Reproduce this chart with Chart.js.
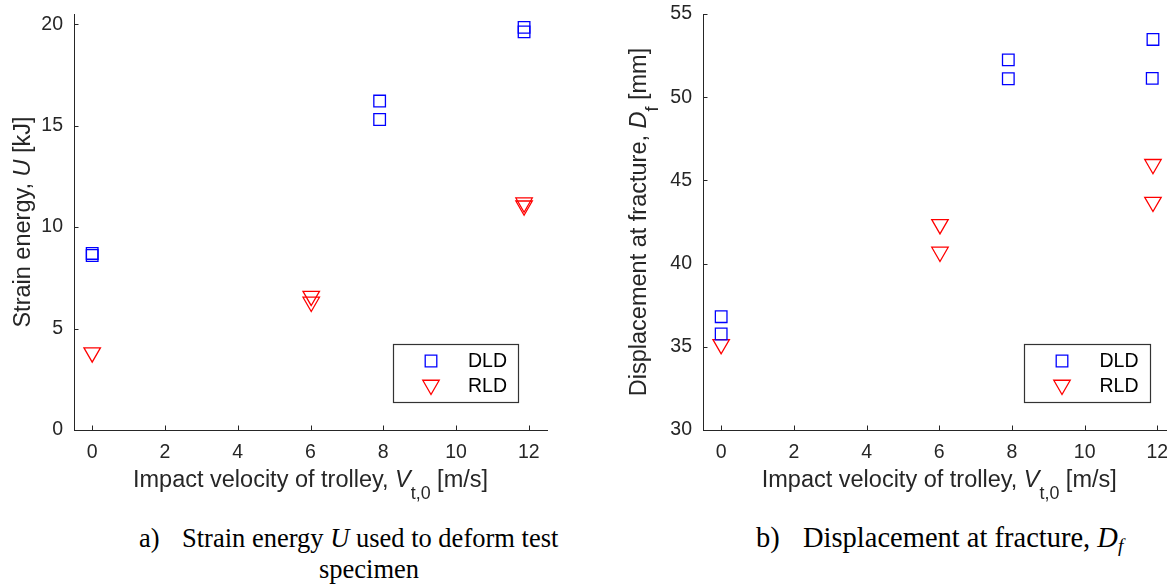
<!DOCTYPE html>
<html>
<head>
<meta charset="utf-8">
<script src="https://cdn.jsdelivr.net/npm/chart.js@4.4.1/dist/chart.umd.min.js"></script>
<style>
  html, body { margin: 0; padding: 0; background: #fff; }
  body { width: 1167px; height: 588px; overflow: hidden; position: relative; }
  canvas { position: absolute; top: 0; }
  #energyChart { left: 0; }
  #dispChart { left: 590px; }
  .cap { position: absolute; font-family: "Liberation Serif", "Times New Roman", serif; color: #000;
         font-size: 26.5px; line-height: 31px; white-space: nowrap; }
  .capB { font-size: 28.5px; }
  .sub { font-size: 0.68em; position: relative; top: 0.28em; }
</style>
</head>
<body>
<canvas id="energyChart" width="590" height="510"></canvas>
<canvas id="dispChart" width="600" height="510"></canvas>

<div class="cap" style="left:139px; top:523px;">a)</div>
<div class="cap" style="left:182px; top:523px; width:374px; text-align:center;">Strain energy <i>U</i> used to deform test<br>specimen</div>
<div class="cap capB" style="left:756px; top:522px;">b)</div>
<div class="cap capB" style="left:803px; top:522px;">Displacement at fracture, <i>D<span class="sub">f</span></i></div>

<script>
// Tick values
const velocityTicks = [0, 2, 4, 6, 8, 10, 12];
const energyTicks = [0, 5, 10, 15, 20];
const dispTicks = [30, 35, 40, 45, 50, 55];

// Strain energy U [kJ] vs impact velocity [m/s]
const dldEnergyV = [0, 0, 7.9, 7.9, 11.87, 11.87];
const dldEnergyU = [8.7, 8.6, 16.21, 15.30, 19.84, 19.62];
const rldEnergyV = [0, 6.02, 6.02, 11.87, 11.87];
const rldEnergyU = [3.81, 6.60, 6.31, 11.20, 11.05];

// Displacement at fracture Df [mm] vs impact velocity [m/s]
const dldDispV = [0, 0, 7.9, 7.9, 11.88, 11.86];
const dldDispD = [36.81, 35.77, 52.24, 51.11, 53.47, 51.13];
const rldDispV = [0, 6.02, 6.02, 11.88, 11.88];
const rldDispD = [35.15, 42.36, 40.70, 45.97, 43.70];

const seriesNames = ['DLD', 'RLD'];

const AXIS_COLOR = '#262626';
const SANS = '"Liberation Sans", Arial, Helvetica, sans-serif';
const BLUE = '#0000ff';
const RED = '#ff0000';
const TITLE_SIZE = 23.5;
const TICK_SIZE = 19.5;

const toPoints = (xs, ys) => xs.map((x, i) => ({ x: x, y: ys[i] }));

// draws a line of text made of normal / italic / subscript pieces, centred on cx
function drawRich(ctx, segs, cx, baseY, size, color) {
  const fontFor = s => (s.style === 'italic' ? 'italic ' : '') +
    (s.style === 'sub' ? size * 0.76 : size) + 'px ' + SANS;
  let total = 0;
  const widths = segs.map(s => {
    ctx.font = fontFor(s);
    const w = ctx.measureText(s.text).width;
    total += w;
    return w;
  });
  let x = cx - total / 2;
  ctx.fillStyle = color;
  ctx.textAlign = 'left';
  ctx.textBaseline = 'alphabetic';
  segs.forEach((s, i) => {
    ctx.font = fontFor(s);
    ctx.fillText(s.text, x, baseY + (s.style === 'sub' ? size * 0.5 : 0));
    x += widths[i];
  });
}

function markerPath(ctx, style, x, y, r) {
  ctx.beginPath();
  if (style === 'rect') {
    const h = Math.SQRT1_2 * r;
    ctx.rect(x - h, y - h, 2 * h, 2 * h);
  } else {
    // downward triangle
    for (let k = 0; k < 3; k++) {
      const ang = Math.PI + k * 2 * Math.PI / 3;
      const px = x + Math.sin(ang) * r, py = y - Math.cos(ang) * r;
      if (k === 0) ctx.moveTo(px, py); else ctx.lineTo(px, py);
    }
    ctx.closePath();
  }
}

// inward tick marks, rich axis titles and the boxed legend
const axesDecor = {
  id: 'axesDecor',
  beforeDatasetsDraw(chart) {
    const ctx = chart.ctx;
    const area = chart.chartArea;
    const xs = chart.scales.x, ys = chart.scales.y;
    const len = 4.5;
    ctx.save();
    ctx.strokeStyle = AXIS_COLOR;
    ctx.lineWidth = 1;
    ctx.beginPath();
    xs.ticks.forEach(t => {
      const px = Math.round(xs.getPixelForValue(t.value)) + 0.5;
      ctx.moveTo(px, area.bottom);
      ctx.lineTo(px, area.bottom - len);
    });
    ys.ticks.forEach(t => {
      const py = Math.round(ys.getPixelForValue(t.value)) + 0.5;
      ctx.moveTo(area.left, py);
      ctx.lineTo(area.left + len, py);
    });
    ctx.stroke();
    ctx.restore();
  },
  afterDraw(chart, args, opts) {
    const ctx = chart.ctx;
    const area = chart.chartArea;
    ctx.save();
    // x title
    drawRich(ctx, opts.xTitle, (area.left + area.right) / 2, opts.xTitleBaseline, TITLE_SIZE, AXIS_COLOR);
    // y title
    ctx.save();
    ctx.translate(opts.yTitleBaseline, (area.top + area.bottom) / 2);
    ctx.rotate(-Math.PI / 2);
    drawRich(ctx, opts.yTitle, 0, 0, TITLE_SIZE, AXIS_COLOR);
    ctx.restore();

    // legend box
    const lg = opts.legend;
    const bx = area.right - lg.rightGap - lg.w;
    const by = area.bottom - lg.bottomGap - lg.h;
    ctx.fillStyle = '#fff';
    ctx.fillRect(bx, by, lg.w, lg.h);
    ctx.strokeStyle = '#333';
    ctx.lineWidth = 1.2;
    ctx.strokeRect(Math.round(bx) + 0.5, Math.round(by) + 0.5, lg.w, lg.h);
    chart.data.datasets.forEach((ds, i) => {
      const rowY = by + lg.rows[i];
      ctx.strokeStyle = ds.borderColor;
      ctx.lineWidth = ds.borderWidth;
      markerPath(ctx, ds.pointStyle, bx + lg.markerX, rowY + (ds.pointStyle === 'rect' ? 0 : -1), ds.pointRadius);
      ctx.stroke();
      ctx.fillStyle = '#000';
      ctx.font = TICK_SIZE + 'px ' + SANS;
      ctx.textAlign = 'left';
      ctx.textBaseline = 'middle';
      ctx.fillText(ds.label, bx + lg.textX, rowY + 1);
    });
    ctx.restore();
  }
};

function makeChart(canvasId, dld, rld, yMin, yMax, yTicks, cfg) {
  return new Chart(document.getElementById(canvasId), {
    type: 'scatter',
    data: {
      datasets: [
        { label: seriesNames[0], data: dld, pointStyle: 'rect', pointRadius: 8.2, pointRotation: 0,
          borderColor: BLUE, backgroundColor: 'rgba(0,0,0,0)', borderWidth: 1.3 },
        { label: seriesNames[1], data: rld, pointStyle: 'triangle', pointRadius: 9.5, pointRotation: 180,
          borderColor: RED, backgroundColor: 'rgba(0,0,0,0)', borderWidth: 1.3 }
      ]
    },
    options: {
      responsive: false,
      animation: false,
      events: [],
      layout: { padding: { left: 0, top: 14, right: cfg.padRight, bottom: 0 } },
      plugins: {
        legend: { display: false },
        tooltip: { enabled: false },
        axesDecor: {
          xTitle: [
            { text: 'Impact velocity of trolley, ', style: 'normal' },
            { text: 'V', style: 'italic' },
            { text: 't,0', style: 'sub' },
            { text: ' [m/s]', style: 'normal' }
          ],
          xTitleBaseline: 487,
          yTitle: cfg.yTitle,
          yTitleBaseline: cfg.yTitleBaseline,
          legend: cfg.legend
        }
      },
      scales: {
        x: {
          type: 'linear', min: -0.5, max: 12.5,
          grid: { display: false, drawTicks: false },
          border: { display: true, color: AXIS_COLOR, width: 1 },
          ticks: { color: AXIS_COLOR, font: { family: SANS, size: TICK_SIZE }, padding: 11, maxRotation: 0 },
          afterBuildTicks: s => { s.ticks = velocityTicks.map(v => ({ value: v })); },
          afterFit: s => { s.height = 80; s.paddingLeft = 0; s.paddingRight = 0; }
        },
        y: {
          type: 'linear', min: yMin, max: yMax,
          grid: { display: false, drawTicks: false },
          border: { display: true, color: AXIS_COLOR, width: 1 },
          ticks: { color: AXIS_COLOR, font: { family: SANS, size: TICK_SIZE }, padding: 11 },
          afterBuildTicks: s => { s.ticks = yTicks.map(v => ({ value: v })); },
          afterFit: s => { s.width = cfg.yWidth; s.paddingTop = 0; s.paddingBottom = 0; }
        }
      }
    },
    plugins: [axesDecor]
  });
}

makeChart('energyChart', toPoints(dldEnergyV, dldEnergyU), toPoints(rldEnergyV, rldEnergyU), 0, 20.5, energyTicks, {
  padRight: 43,
  yWidth: 74,
  yTitleBaseline: 30,
  yTitle: [
    { text: 'Strain energy, ', style: 'normal' },
    { text: 'U', style: 'italic' },
    { text: ' [kJ]', style: 'normal' }
  ],
  legend: { w: 125, h: 58, rightGap: 29, bottomGap: 28, markerX: 38, textX: 75, rows: [17, 42] }
});

makeChart('dispChart', toPoints(dldDispV, dldDispD), toPoints(rldDispV, rldDispD), 30, 55, dispTicks, {
  padRight: 14.5,
  yWidth: 113,
  yTitleBaseline: 56,
  yTitle: [
    { text: 'Displacement at fracture, ', style: 'normal' },
    { text: 'D', style: 'italic' },
    { text: 'f', style: 'sub' },
    { text: ' [mm]', style: 'normal' }
  ],
  legend: { w: 126, h: 58, rightGap: 26, bottomGap: 28, markerX: 38.5, textX: 76, rows: [17, 42] }
});
</script>
</body>
</html>
